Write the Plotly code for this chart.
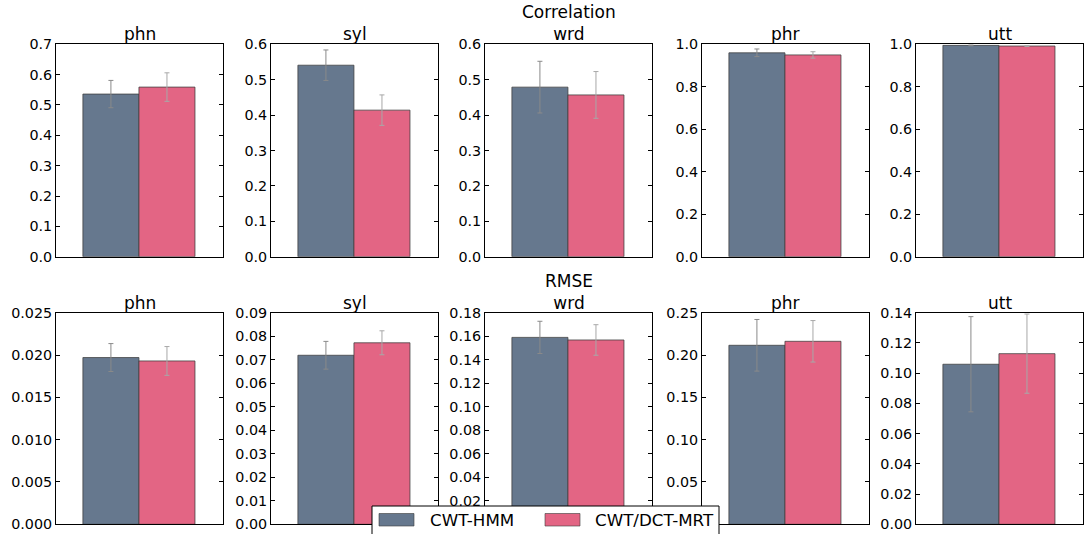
import plotly.graph_objects as go

W, H = 1084, 534

# ---- data ----
levels = ["phn", "syl", "wrd", "phr", "utt"]
series_names = ["CWT-HMM", "CWT/DCT-MRT"]

corr_hmm = [0.536, 0.541, 0.479, 0.960, 0.995]
corr_hmm_err = [0.045, 0.043, 0.073, 0.018, 0.002]
corr_mrt = [0.559, 0.414, 0.457, 0.950, 0.992]
corr_mrt_err = [0.047, 0.043, 0.066, 0.015, 0.002]

rmse_hmm = [0.0197, 0.0719, 0.1590, 0.2115, 0.1059]
rmse_hmm_err = [0.00165, 0.0059, 0.0137, 0.0305, 0.0315]
rmse_mrt = [0.0193, 0.0772, 0.1568, 0.2162, 0.1129]
rmse_mrt_err = [0.0017, 0.0051, 0.0130, 0.0245, 0.0262]

corr_ymax = [0.7, 0.6, 0.6, 1.0, 1.0]
corr_dtick = [0.1, 0.1, 0.1, 0.2, 0.2]
corr_fmt = [".1f"] * 5
rmse_ymax = [0.025, 0.09, 0.18, 0.25, 0.14]
rmse_dtick = [0.005, 0.01, 0.02, 0.05, 0.02]
rmse_fmt = [".3f", ".2f", ".2f", ".2f", ".2f"]
# panels whose zero label is hidden behind the legend box in the reference
corr_hide_zero = [False] * 5
rmse_hide_zero = [False, False, True, True, False]

# ---- style ----
C_HMM = "#66788e"
C_MRT = "#e36584"
FONT = "DejaVu Sans"
TICK_FS = 14.3
TITLE_FS = 17

panel_left = [56, 271, 485, 702, 916]
panel_w = 167
rows_px = [(44.3, 256.7), (312.7, 524.3)]


def px_x(x):
    return x / W


def px_y(y):
    return 1 - y / H


fig = go.Figure()
annotations = []
shapes = []

rows = [
    (corr_hmm, corr_hmm_err, corr_mrt, corr_mrt_err, corr_ymax, corr_dtick, corr_fmt, corr_hide_zero, "Correlation"),
    (rmse_hmm, rmse_hmm_err, rmse_mrt, rmse_mrt_err, rmse_ymax, rmse_dtick, rmse_fmt, rmse_hide_zero, "RMSE"),
]

k = 0
for r, (h, he, m, me, ymax, dt, fmt, hz, rtitle) in enumerate(rows):
    top, bot = rows_px[r]
    for i, lev in enumerate(levels):
        k += 1
        xa = "x" if k == 1 else f"x{k}"
        ya = "y" if k == 1 else f"y{k}"
        xk = "xaxis" if k == 1 else f"xaxis{k}"
        yk = "yaxis" if k == 1 else f"yaxis{k}"
        for xpos, val, err, col, ecol in [(0, h[i], he[i], C_HMM, "#8a8a8a"),
                                           (1, m[i], me[i], C_MRT, "#a8a8a8")]:
            fig.add_trace(go.Bar(
                x=[xpos], y=[val], width=[1.0], xaxis=xa, yaxis=ya,
                marker=dict(color=col, line=dict(color="rgba(60,60,60,0.75)", width=1)),
                error_y=dict(type="data", array=[err], color=ecol, thickness=1, width=2.5),
                showlegend=False,
            ))
        x0 = panel_left[i]
        fig.layout[xk] = dict(
            domain=[px_x(x0), px_x(x0 + panel_w)], range=[-0.98, 2.0],
            showticklabels=False, ticks="", showgrid=False, zeroline=False,
            showline=True, linecolor="black", linewidth=1, mirror=True,
            anchor=ya, fixedrange=True, automargin=False,
        )
        yax = dict(
            domain=[px_y(bot), px_y(top)], range=[0, ymax[i]],
            dtick=dt[i], tick0=0, tickformat=fmt[i],
            ticks="inside", ticklen=4, tickcolor="black", tickwidth=1,
            showgrid=False, zeroline=False,
            showline=True, linecolor="black", linewidth=1, mirror="ticks",
            tickfont=dict(family=FONT, size=TICK_FS, color="black"),
            anchor=xa, fixedrange=True, automargin=False,
        )
        if hz[i]:
            n = int(round(ymax[i] / dt[i]))
            vals = [j * dt[i] for j in range(1, n + 1)]
            yax.update(tickmode="array", tickvals=vals,
                       ticktext=[format(v, fmt[i]) for v in vals])
        fig.layout[yk] = yax
        # middle panel carries the row title as a first line
        title_text = f"{rtitle}<br>{lev}" if i == 2 else lev
        annotations.append(dict(
            text=title_text, x=px_x(x0 + panel_w / 2), y=px_y(top), xref="paper", yref="paper",
            xanchor="center", yanchor="bottom", showarrow=False, yshift=-1, borderpad=0,
            font=dict(family=FONT, size=TITLE_FS, color="black"),
        ))

# ---- legend (drawn as a box, as in the reference) ----
leg_x0, leg_x1, leg_y0 = 372, 719, 506
shapes.append(dict(type="rect", xref="paper", yref="paper", layer="above",
                   x0=px_x(leg_x0), x1=px_x(leg_x1), y0=px_y(leg_y0), y1=px_y(H + 20),
                   fillcolor="white", line=dict(color="black", width=1)))
for (sx0, sx1, tx, col, name) in [(379, 414, 428, C_HMM, series_names[0]),
                                  (545, 580, 593, C_MRT, series_names[1])]:
    shapes.append(dict(type="rect", xref="paper", yref="paper", layer="above",
                       x0=px_x(sx0), x1=px_x(sx1), y0=px_y(526), y1=px_y(513.5),
                       fillcolor=col, line=dict(color="rgba(60,60,60,0.6)", width=1)))
    annotations.append(dict(
        text=name, x=px_x(tx), y=px_y(520), xref="paper", yref="paper",
        xanchor="left", yanchor="middle", showarrow=False,
        font=dict(family=FONT, size=16.7, color="black"),
    ))

fig.update_layout(
    width=W, height=H, margin=dict(l=0, r=0, t=0, b=0, autoexpand=False),
    paper_bgcolor="white", plot_bgcolor="white",
    barmode="overlay", showlegend=False,
    annotations=annotations, shapes=shapes,
    font=dict(family=FONT),
)

post = ("document.documentElement.style.margin='0';"
        "document.body.style.margin='0';document.body.style.padding='0';")
fig.write_html("out.html", post_script=post)
